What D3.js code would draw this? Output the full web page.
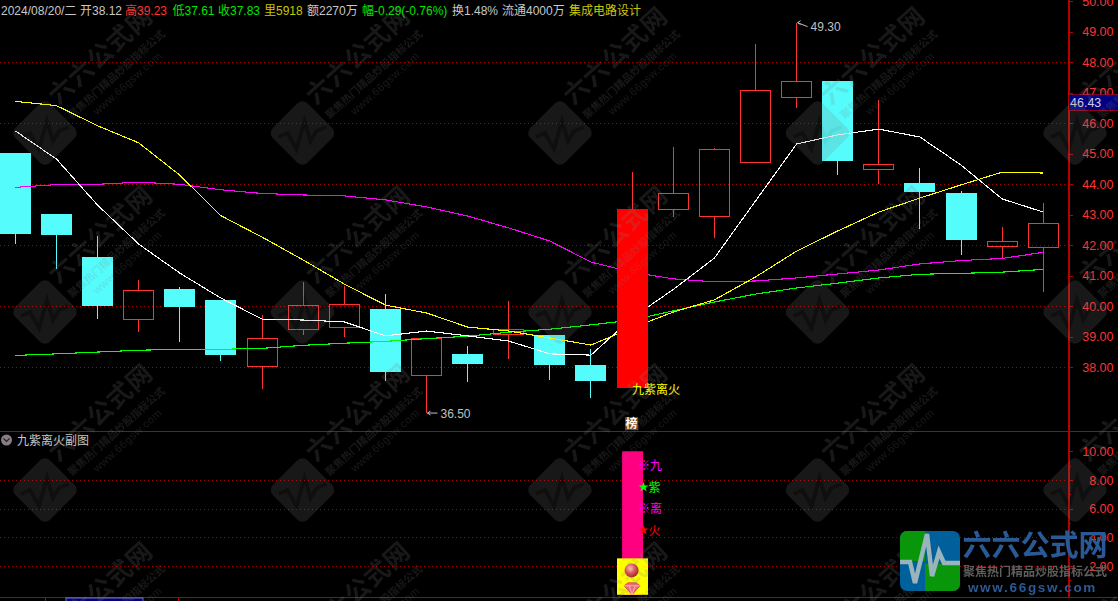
<!DOCTYPE html>
<html><head><meta charset="utf-8">
<script src="https://cdn.jsdelivr.net/npm/d3@7/dist/d3.min.js"></script>
<style>
html,body{margin:0;padding:0;background:#000;overflow:hidden}
svg{display:block}
text{font-family:"Liberation Sans","Noto Sans CJK SC",sans-serif;font-size:12px}
</style></head><body>
<svg id="c" width="1118" height="601"></svg>
<script>
// ---------- data ----------
const opens  = [45.03,43.03,41.62,39.59,40.57,40.21,38.05,39.25,39.31,39.91,37.74,38.44,39.08,39.06,38.08,37.33,43.18,42.95,44.72,46.85,47.39,44.51,44.04,43.71,41.99,41.95];
const closes = [42.40,42.37,40.04,40.52,40.01,38.44,38.96,40.03,40.07,37.89,38.95,38.15,39.27,38.12,37.58,43.19,43.70,45.15,47.08,47.38,44.81,44.66,43.78,42.22,42.13,42.72];
const highs  = [45.03,43.03,42.30,40.86,40.63,40.21,39.71,40.79,40.67,40.40,38.95,38.70,40.17,39.06,38.60,44.40,45.22,45.19,48.60,49.30,47.39,46.76,44.53,43.78,42.60,43.39];
const lows   = [42.04,41.22,39.58,39.17,38.84,38.22,37.30,39.06,39.00,37.56,36.50,37.53,38.28,37.58,37.00,37.33,42.94,42.25,44.72,46.51,44.32,44.02,42.54,41.69,41.57,40.48];
const maWhite   = [45.75,44.83,43.32,42.04,41.09,40.27,39.58,39.55,39.49,39.03,39.19,39.03,38.86,38.44,38.40,39.62,40.55,41.58,43.45,45.32,45.62,45.81,45.55,44.63,43.52,43.09];
const maYellow  = [46.72,46.58,45.92,45.36,44.30,42.97,42.27,41.52,40.73,40.04,39.78,39.32,39.19,38.96,38.73,39.29,39.81,40.21,40.96,41.81,42.47,43.09,43.55,43.98,44.40,44.37];
const maMagenta = [43.90,43.99,44.00,44.07,44.00,43.82,43.70,43.65,43.62,43.49,43.26,42.96,42.57,42.14,41.45,41.12,40.90,40.80,40.83,40.93,41.06,41.19,41.39,41.50,41.57,41.77];
const maGreen   = [38.39,38.44,38.50,38.56,38.59,38.59,38.62,38.72,38.79,38.85,38.94,39.02,39.15,39.25,39.39,39.55,39.85,40.14,40.40,40.60,40.76,40.93,41.05,41.08,41.12,41.21];
const priceTicks = [38,39,40,41,42,43,44,45,46,47,48,49,50];
const priceGrid  = [38,40,42,44,46,48];
const subTicks   = [2,4,6,8,10];
const subMinor   = [1,3,5,7,9];
const subGrid    = [2,4,6,8];
const signalIndex = 15;
const signalBarTop = 10, signalBoxTop = 2.54;
const subLabels = ['九','紫','离','火'];
const subValues = [9,7.5,6,4.5];
const subKinds  = ['note','star','note','star'];
const subColors = ['#ff00ff','#00ff00','#ff00ff','#ff0000'];
const cursorPrice = 46.43;
const maxIndex = 19, minIndex = 10;
const headerTexts  = ['2024/08/20/二','开38.12','高39.23','低37.61','收37.83','里5918','额2270万','幅-0.29(-0.76%)','换1.48%','流通4000万','集成电路设计'];
const headerStarts = [1,80,125,172.5,218,264,307,362,452,502,569];
const headerColors = ['#c8c8c8','#c8c8c8','#ff3232','#00e600','#00e600','#c8c800','#c8c8c8','#00e600','#c8c8c8','#c8c8c8','#c8c800'];
const wmCols = [45,302.5,560,817.5,1075];
const wmRows = [133,312,490,668];

// ---------- scales ----------
const svg = d3.select('#c');
const RED='#ff3232', CYAN='#54fcfc', FRAME='#b40000', GRID='#aa0000';
const axisX = 1068.5;
const x = d3.scaleLinear().domain([0,25]).range([15.3,1043.3]);
const y = d3.scaleLinear().domain([37,50]).range([397.8,1.3]);
const ys = d3.scaleLinear().domain([0,10]).range([594.8,451.3]);
const px = i => Math.floor(x(i)) + .5;
const py = v => Math.round(y(v)) + .5;

// ---------- grid ----------
const gridG = svg.append('g').attr('stroke',GRID).attr('stroke-dasharray','1 3').attr('shape-rendering','crispEdges');
gridG.selectAll('.a').data(priceGrid).join('line').attr('class','a').attr('x1',0).attr('x2',axisX).attr('y1',py).attr('y2',py);
gridG.selectAll('.b').data(subGrid).join('line').attr('class','b').attr('x1',0).attr('x2',axisX)
  .attr('y1',d=>Math.round(ys(d))+.5).attr('y2',d=>Math.round(ys(d))+.5);

// ---------- candles ----------
const idx = d3.range(opens.length);
const normal = idx.filter(i=>i!==signalIndex);
const candle = svg.append('g').attr('shape-rendering','crispEdges');
function wick(g,i){
  const up = closes[i]>=opens[i], col = up?RED:CYAN;
  const top = Math.max(opens[i],closes[i]), bot = Math.min(opens[i],closes[i]);
  if(highs[i]>top) g.append('line').attr('x1',px(i)).attr('x2',px(i)).attr('y1',y(highs[i])).attr('y2',py(top)).attr('stroke',col);
  if(lows[i]<bot) g.append('line').attr('x1',px(i)).attr('x2',px(i)).attr('y1',py(bot)).attr('y2',y(lows[i])).attr('stroke',col);
}
normal.forEach(i=>{
  wick(candle,i);
  const up = closes[i]>=opens[i];
  const t = py(Math.max(opens[i],closes[i])), b = py(Math.min(opens[i],closes[i]));
  if(up) candle.append('rect').attr('x',px(i)-15).attr('y',t).attr('width',30).attr('height',b-t).attr('fill','none').attr('stroke',RED);
  else candle.append('rect').attr('x',px(i)-15.5).attr('y',t-.5).attr('width',31).attr('height',b-t+1).attr('fill',CYAN);
});

// ---------- moving averages ----------
const line = d3.line().x((d,i)=>x(i)).y(d=>y(d));
[[maGreen,'#00ff00'],[maMagenta,'#ff00ff'],[maYellow,'#ffff00'],[maWhite,'#ffffff']].forEach(([s,c])=>{
  svg.append('path').attr('d',line(s)).attr('fill','none').attr('stroke',c).attr('stroke-width',1.1).attr('shape-rendering','crispEdges');
});

// ---------- signal candle ----------
const sig = svg.append('g').attr('shape-rendering','crispEdges');
wick(sig,signalIndex);
sig.append('rect').attr('x',px(signalIndex)-15.5).attr('y',y(closes[signalIndex])).attr('width',31)
  .attr('height',y(opens[signalIndex])-y(closes[signalIndex])).attr('fill','#ff0000');
svg.append('text').attr('x',x(signalIndex)).attr('y',y(opens[signalIndex])+6.5).attr('fill','#ffff00').text('九紫离火');
// 榜 badge
svg.append('rect').attr('x',x(signalIndex)-7).attr('y',417).attr('width',13).attr('height',13).attr('fill','#7a4016');
svg.append('text').attr('x',x(signalIndex)-.5).attr('y',428).attr('text-anchor','middle').attr('fill','#fff').attr('font-weight','bold').text('榜');

// ---------- extreme labels ----------
function extreme(i,v,label,dy){
  const X=x(i), Y=y(v);
  svg.append('path').attr('d',`M${X+1},${Y} L${X+4},${Y-2} M${X+1},${Y} L${X+4},${Y+2} M${X+1},${Y} L${X+11},${Y+dy}`).attr('stroke','#c0c0c0').attr('fill','none');
  svg.append('text').attr('x',X+14).attr('y',Y+dy+4.5).attr('fill','#c0c0c0').text(label);
}
extreme(maxIndex,highs[maxIndex],d3.format('.2f')(highs[maxIndex]),4);
extreme(minIndex,lows[minIndex],d3.format('.2f')(lows[minIndex]),0);

// ---------- sub-panel ----------
const sub = svg.append('g');
sub.append('rect').attr('x',x(signalIndex)-10).attr('width',21).attr('y',ys(signalBarTop)).attr('height',ys(0)-ys(signalBarTop)).attr('fill','#ff0080');
sub.append('rect').attr('x',px(signalIndex)-15.5).attr('width',31).attr('y',ys(signalBoxTop)).attr('height',ys(0)-ys(signalBoxTop)).attr('fill','#ffff00');
const defs = svg.append('defs');
const rg = defs.append('radialGradient').attr('id','ball').attr('cx','.4').attr('cy','.35').attr('r','.7');
rg.append('stop').attr('offset','0').attr('stop-color','#ffd0c8');
rg.append('stop').attr('offset','.5').attr('stop-color','#e85050');
rg.append('stop').attr('offset','1').attr('stop-color','#902020');
sub.append('circle').attr('cx',x(signalIndex)-.5).attr('cy',ys(1.7)).attr('r',7).attr('fill','url(#ball)');
const gemX=x(signalIndex), gemY=ys(.42);
sub.append('path').attr('d',`M${gemX-8},${gemY-3} L${gemX-4},${gemY-6} L${gemX+4},${gemY-6} L${gemX+8},${gemY-3} L${gemX},${gemY+6}Z`).attr('fill','#f06a7a').attr('stroke','#d03050').attr('stroke-width',.7);
sub.append('path').attr('d',`M${gemX-8},${gemY-3} H${gemX+8} M${gemX-3},${gemY-3} L${gemX},${gemY+6} L${gemX+3},${gemY-3}`).attr('stroke','#ffd0d8').attr('stroke-width',.7).attr('fill','none');
subLabels.forEach((t,i)=>{
  const X=x(signalIndex)+11.5, Y=ys(subValues[i]);
  if(subKinds[i]==='star'){
    sub.append('path').attr('d',d3.symbol(d3.symbolStar,32)()).attr('transform',`translate(${X},${Y})`).attr('fill',subColors[i]);
    sub.append('text').attr('x',X+5).attr('y',Y+4.5).attr('fill',subColors[i]).text(t);
  } else {
    sub.append('text').attr('x',X+.5).attr('y',Y+4.5).attr('text-anchor','middle').attr('font-weight','bold').attr('style','font-size:12px;font-family:"Noto Sans CJK SC"').attr('fill',subColors[i]).text('※');
    sub.append('text').attr('x',X+6.5).attr('y',Y+4.5).attr('fill',subColors[i]).text(t);
  }
});
// panel title
svg.append('circle').attr('cx',6.5).attr('cy',440).attr('r',5.5).attr('fill','#8a7c84');
svg.append('path').attr('d','M3.5,438.5 L6.5,441.5 L9.5,438.5').attr('stroke','#222').attr('stroke-width',1.2).attr('fill','none');
svg.append('text').attr('x',17).attr('y',444.5).attr('fill','#c8c8c8').text('九紫离火副图');

// ---------- frame and axes ----------
const frame = svg.append('g').attr('stroke',FRAME).attr('shape-rendering','crispEdges');
frame.append('line').attr('x1',0).attr('x2',1118).attr('y1',431.5).attr('y2',431.5);
frame.append('line').attr('x1',0).attr('x2',1118).attr('y1',597.5).attr('y2',597.5);
frame.append('line').attr('x1',axisX).attr('x2',axisX).attr('y1',0).attr('y2',597.5).attr('stroke-width',2);
frame.append('line').attr('x1',178.5).attr('x2',178.5).attr('y1',597).attr('y2',601);
frame.append('line').attr('x1',45.5).attr('x2',45.5).attr('y1',598).attr('y2',601);
svg.append('rect').attr('x',66).attr('y',598).attr('width',77).attr('height',4).attr('fill','#000080').attr('stroke','#c0c0c0').attr('stroke-width',.6);

function styleAxis(g){
  g.select('.domain').remove();
  g.selectAll('.tick line').attr('stroke',FRAME).attr('shape-rendering','crispEdges');
  g.selectAll('.tick text').attr('x',45).attr('text-anchor','end').attr('fill',RED)
    .attr('style','font-size:12.5px;font-family:"Liberation Sans",sans-serif');
}
svg.append('g').attr('transform',`translate(${axisX},0)`)
  .call(d3.axisRight(y).tickValues(priceTicks).tickSize(4).tickFormat(d3.format('.2f'))).call(styleAxis);
svg.append('g').attr('transform',`translate(${axisX},0)`)
  .call(d3.axisRight(ys).tickValues(subTicks).tickSize(4).tickFormat(d3.format('.2f'))).call(styleAxis);
svg.append('g').attr('transform',`translate(${axisX},0)`)
  .call(d3.axisRight(ys).tickValues(subMinor).tickSize(2).tickFormat('')).call(styleAxis);

// cursor price box
const cy = y(cursorPrice);
svg.append('rect').attr('x',1069).attr('y',cy-15.5).attr('width',49).attr('height',15.5).attr('fill','#000080');
frame.append('line').attr('x1',1069).attr('x2',1118).attr('y1',Math.round(cy-16)+.5).attr('y2',Math.round(cy-16)+.5);
frame.append('line').attr('x1',1069).attr('x2',1118).attr('y1',Math.round(cy)+.5).attr('y2',Math.round(cy)+.5);
svg.append('text').attr('x',1070).attr('y',cy-3.5).attr('fill','#d0d0e8').attr('style','font-size:12.5px').text(d3.format('.2f')(cursorPrice));

// ---------- header ----------
svg.append('g').selectAll('text').data(headerTexts).join('text')
  .attr('x',(d,i)=>headerStarts[i]).attr('y',14.5).attr('fill',(d,i)=>headerColors[i]).text(d=>d);

// ---------- watermark ----------
const wm = svg.append('g').attr('fill','#808080').attr('opacity',.19);
wmCols.forEach(cx=>wmRows.forEach(cy=>{
  const g = wm.append('g').attr('transform',`translate(${cx},${cy})`);
  g.append('rect').attr('x',-24.5).attr('y',-24.5).attr('width',49).attr('height',49).attr('rx',7)
    .attr('transform','rotate(45) ');
  g.append('path').attr('d','M-24,4 L-15,0 L-6,16 L2,-12 L8,8 L14,-2 L24,-6').attr('fill','none').attr('stroke','#000').attr('stroke-width',4).attr('opacity',.35);
  const tag=(dx,dy,size,weight,t,ls)=>g.append('text').attr('transform',`translate(${dx},${dy}) rotate(-42)`).attr('text-anchor','middle')
    .attr('style',`font-size:${size}px;font-weight:${weight};letter-spacing:${ls}px`).attr('dominant-baseline','middle').text(t);
  tag(57,-76,25,'bold','六六公式网',1);
  tag(72,-58,10.5,'bold','聚焦热门精品炒股指标公式',0);
  tag(83,-49,11,'normal','www.66gsw.com',.5);
}));

// ---------- logo ----------
const logo = svg.append('g');
logo.append('clipPath').attr('id','tile').append('rect').attr('x',900).attr('y',531).attr('width',60).attr('height',60).attr('rx',7);
const tile = logo.append('g').attr('clip-path','url(#tile)');
tile.append('rect').attr('x',900).attr('y',531).attr('width',60).attr('height',60).attr('fill','#00609c');
tile.append('rect').attr('x',900).attr('y',531).attr('width',25).attr('height',30).attr('fill','#0a960a');
tile.append('rect').attr('x',925).attr('y',564).attr('width',35).attr('height',27).attr('fill','#0a960a');
tile.append('path').attr('d','M900,562 H910 L915,583 L927,534 L932,576 L939,552 L944,563 H960').attr('fill','none').attr('stroke','#9ab4bc').attr('stroke-width',4.5);
logo.append('text').attr('x',1035).attr('y',556).attr('text-anchor','middle').attr('fill','#2a5a96').attr('font-weight','bold').attr('style','font-size:29px;letter-spacing:0').text('六六公式网');
logo.append('text').attr('x',1035).attr('y',576).attr('text-anchor','middle').attr('fill','#5e5e5e').attr('font-weight','bold').text('聚焦热门精品炒股指标公式');
logo.append('text').attr('x',1032.5).attr('y',592).attr('text-anchor','middle').attr('fill','#2a5a96').attr('font-weight','bold').attr('style','font-size:13.5px;letter-spacing:1.7px').text('www.66gsw.com');
</script>
</body></html>
